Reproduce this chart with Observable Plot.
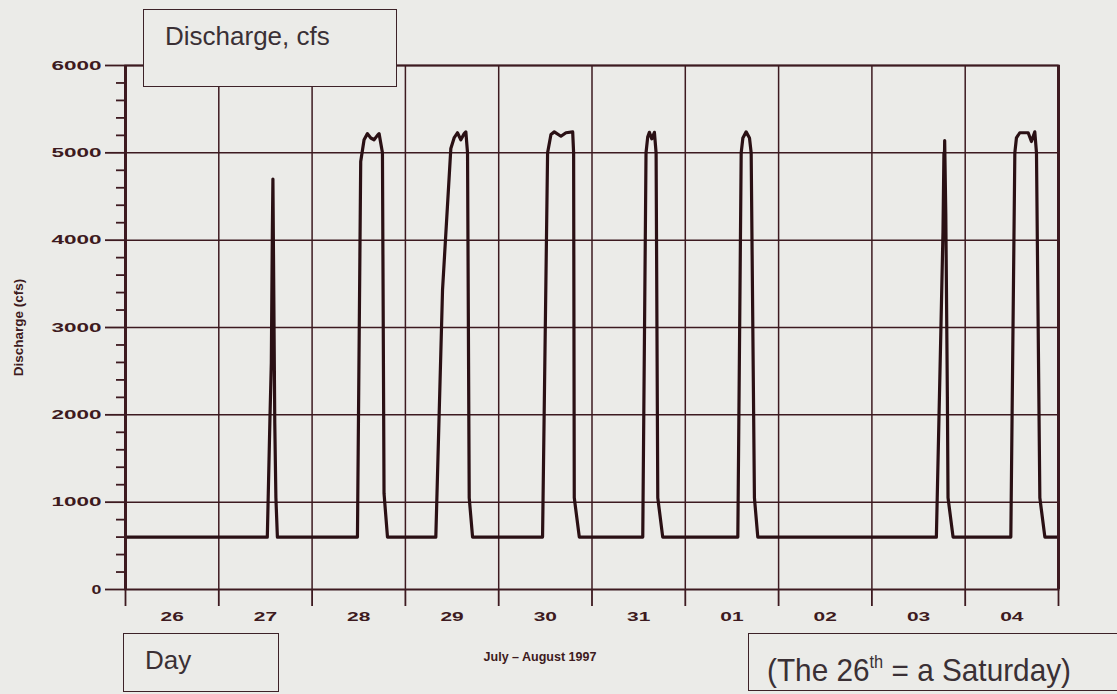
<!DOCTYPE html>
<html><head><meta charset="utf-8">
<script src="https://cdn.jsdelivr.net/npm/d3@7"></script>
<script src="https://cdn.jsdelivr.net/npm/@observablehq/plot@0.6"></script>
<style>
html,body{margin:0;padding:0;background:#ebebe8;}
#wrap{position:relative;width:1117px;height:694px;overflow:hidden;}
#wrap svg{position:absolute;left:0;top:0;}
.box{position:absolute;border:1.6px solid #3d2228;background:#ebebe8;box-sizing:border-box;z-index:2;}
.lbl{position:absolute;white-space:nowrap;line-height:1;color:#3a3035;font-family:"Liberation Sans",Arial,sans-serif;z-index:3;}
.narrow{transform:scaleX(0.93);transform-origin:left center;}
.narrow sup{font-size:55%;vertical-align:0.75em;line-height:0;}
</style></head><body>
<div id="wrap"></div>
<script>
// ---- data ----
const dayLabels = ["26","27","28","29","30","31","01","02","03","04"];
const yTickValues = [0,1000,2000,3000,4000,5000,6000];
// time in days since 26 July 1997 00:00
const tDays = [0, 1.520, 1.548, 1.563, 1.574, 1.580, 1.600, 1.612, 1.628,
  2.486, 2.521, 2.557, 2.593, 2.629, 2.664, 2.700, 2.718, 2.754, 2.771, 2.808,
  3.326, 3.398, 3.487, 3.522, 3.558, 3.594, 3.630, 3.648, 3.666, 3.684, 3.720,
  4.470, 4.524, 4.560, 4.596, 4.667, 4.721, 4.793, 4.803, 4.810, 4.864,
  5.544, 5.579, 5.597, 5.615, 5.641, 5.669, 5.687, 5.705, 5.758,
  6.563, 6.599, 6.617, 6.652, 6.688, 6.706, 6.741, 6.777,
  8.691, 8.740, 8.762, 8.772, 8.768, 8.780, 8.792, 8.809, 8.816, 8.870,
  9.489, 9.532, 9.549, 9.585, 9.675, 9.710, 9.746, 9.764, 9.800, 9.854, 10.0];
const dischargeCfs = [600, 600, 1950, 2600, 4100, 4700, 1900, 1050, 600,
  600, 4900, 5150, 5220, 5170, 5150, 5200, 5220, 5000, 1100, 600,
  600, 3430, 5050, 5170, 5230, 5150, 5220, 5240, 5000, 1050, 600,
  600, 5000, 5210, 5240, 5190, 5230, 5240, 5000, 1050, 600,
  600, 5000, 5180, 5235, 5160, 5235, 5000, 1050, 600,
  600, 5000, 5170, 5240, 5170, 5000, 1050, 600,
  600, 3000, 4100, 5000, 4100, 5140, 4300, 2200, 1050, 600,
  600, 5000, 5170, 5230, 5230, 5130, 5240, 5000, 1050, 600, 600];

// ---- derived ----
const data = tDays.map((t, i) => ({t, q: dischargeCfs[i]}));
const dayEdges = d3.range(dayLabels.length + 1);
const dayMids = d3.range(dayLabels.length).map(i => i + 0.5);
const yMinor = d3.range(0, 6001, 200).filter(v => v % 1000 !== 0);
const ink = "#3d1a20";
const lineInk = "#2a1014";
const font = "'Liberation Sans', Arial, sans-serif";

const chart = Plot.plot({
  width: 1117, height: 694,
  marginTop: 65, marginRight: 59, marginBottom: 105, marginLeft: 125,
  style: {background: "transparent", color: ink, fontFamily: font, overflow: "visible"},
  x: {domain: [0, dayLabels.length], label: null},
  y: {domain: [0, 6000], label: null},
  marks: [
    Plot.ruleY(yTickValues.slice(1), {stroke: ink, strokeWidth: 1.5}),
    Plot.ruleX(dayEdges, {stroke: ink, strokeWidth: 1.5}),
    Plot.axisY({ticks: yMinor, tickSize: 9, tickFormat: () => "", stroke: ink, strokeWidth: 1.8, label: null}),
    Plot.axisY({ticks: yTickValues, tickSize: 20, tickPadding: 4, tickFormat: d => String(d),
      stroke: ink, strokeWidth: 1.8, fontSize: 13.5, fontWeight: "bold", label: null}),
    Plot.axisX({ticks: dayEdges, tickSize: 17, tickFormat: () => "", stroke: ink, strokeWidth: 1.8, label: null}),
    Plot.axisX({ticks: dayMids, tickSize: 0, tickPadding: 22, tickFormat: d => dayLabels[Math.floor(d)],
      fontSize: 13.5, fontWeight: "bold", label: null}),
    Plot.line(data, {x: "t", y: "q", stroke: lineInk, strokeWidth: 3.2, strokeLinejoin: "round"}),
    Plot.frame({stroke: ink, strokeWidth: 2}),
    Plot.ruleX([0, dayLabels.length], {stroke: ink, strokeWidth: 3}),
    Plot.text(["Discharge (cfs)"], {frameAnchor: "left", textAnchor: "middle", dx: -107, rotate: -90,
      fontWeight: "bold", fontSize: 13.5, fill: ink}),
    Plot.text(["July – August 1997"], {frameAnchor: "bottom", textAnchor: "middle", dx: -52, dy: 71,
      fontWeight: "bold", fontSize: 12.5, fill: ink})
  ]
});

// widen the bold tick digits like the original extended typeface
chart.querySelectorAll('g[aria-label="y-axis tick label"] text, g[aria-label="x-axis tick label"] text').forEach(el => {
  const s = el.textContent;
  if (!s) return;
  el.setAttribute("textLength", 13.4 * s.length - 3.5);
  el.setAttribute("lengthAdjust", "spacingAndGlyphs");
});

const wrap = document.getElementById("wrap");
wrap.appendChild(chart);

function addBox(l, t, w, h) {
  const b = document.createElement("div");
  b.className = "box";
  Object.assign(b.style, {left: l + "px", top: t + "px", width: w + "px", height: h + "px"});
  wrap.appendChild(b);
}
function addLabel(html, l, t, size, cls) {
  const d = document.createElement("div");
  d.className = "lbl" + (cls ? " " + cls : "");
  d.innerHTML = html;
  Object.assign(d.style, {left: l + "px", top: t + "px", fontSize: size + "px"});
  wrap.appendChild(d);
}
addBox(143, 9, 254, 78);
addLabel("Discharge, cfs", 165, 23, 26);
addBox(123, 633, 156, 59);
addLabel("Day", 145, 647, 26);
addBox(748, 633, 420, 58);
addLabel("(The 26<sup>th</sup> = a Saturday)", 767, 654, 32, "narrow");
</script>
</body></html>
